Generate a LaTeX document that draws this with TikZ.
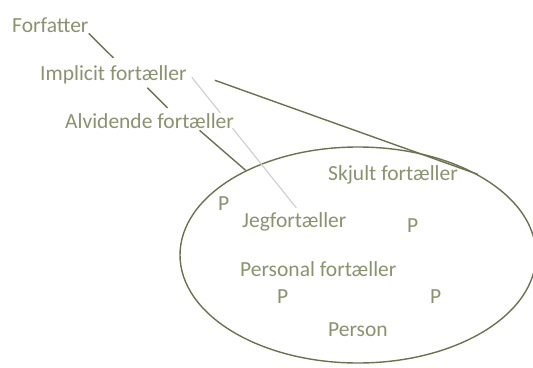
\documentclass[tikz,border=0pt]{standalone}
\usepackage{fontspec}
\setmainfont{Carlito}
\usetikzlibrary{shapes.geometric}
\definecolor{txtgreen}{RGB}{138,146,110}
\definecolor{linegreen}{RGB}{106,114,80}
\definecolor{palegray}{RGB}{210,210,210}
\begin{document}
\begin{tikzpicture}[
        x=1pt, y=-1pt,
        label/.style={inner sep=0pt, anchor=base west, text=txtgreen, font=\fontsize{21.5}{25}\selectfont},
        link/.style={draw=linegreen, line width=1.4pt},
        faint/.style={draw=palegray, line width=1.2pt}
    ]
        \useasboundingbox (0,0) rectangle (533,367);

        % Outer circle of the story
        \node[ellipse, draw=linegreen, line width=1.4pt, minimum width=356pt, minimum height=216pt, inner sep=0pt] (world) at (358,255) {};

        % Narrator levels
        \node[label] (forf) at (12,32) {Forfatter};
        \node[label] (impl) at (40,80) {Implicit fortæller};
        \node[label] (jeg) at (242,227) {Jegfortæller};

        % Pale line behind the text
        \draw[faint] ([xshift=5pt,yshift=-3pt]impl.east) -- ([xshift=2pt,yshift=4pt]jeg.north);

        \node[label, fill=white] (alv) at (65,128) {Alvidende fortæller};

        % Inside the story
        \node[label] (skjult) at (328,180) {Skjult fortæller};
        \node[label] (pers) at (240,276) {Personal fortæller};
        \node[label] (person) at (328,336) {Person};
        \node[label] (p1) at (218,210) {P};
        \node[label] (p2) at (407,232) {P};
        \node[label] (p3) at (277,303) {P};
        \node[label] (p4) at (430,303) {P};

        % Lines
        \draw[link] ([yshift=-1pt]forf.south east) -- ([yshift=7pt]impl.north);
        \draw[link] ([xshift=34pt,yshift=-4pt]impl.south) -- ([xshift=18pt,yshift=5pt]alv.north);
        \draw[link] ([xshift=28pt,yshift=-6pt]impl.east) -- (world.34);
        \draw[link] ([xshift=50pt,yshift=-2pt]alv.south) -- (world.143.5);
    \end{tikzpicture}
\end{document}
